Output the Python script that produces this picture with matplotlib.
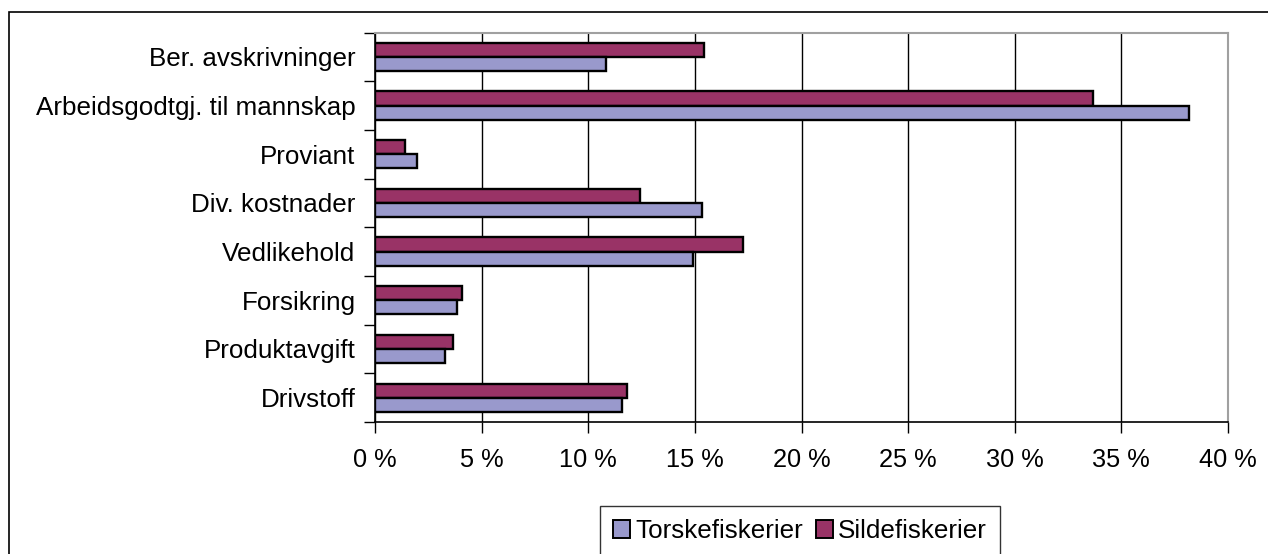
import matplotlib
matplotlib.use("Agg")
import matplotlib.pyplot as plt
from matplotlib.patches import Rectangle, Patch
import numpy as np

plt.rcParams['font.family'] = ['Liberation Sans', 'DejaVu Sans']

categories = ["Ber. avskrivninger", "Arbeidsgodtgj. til mannskap", "Proviant",
              "Div. kostnader", "Vedlikehold", "Forsikring", "Produktavgift", "Drivstoff"]
torsk = [10.85, 38.15, 1.95, 15.35, 14.9, 3.85, 3.3, 11.6]
sild = [15.45, 33.65, 1.4, 12.45, 17.25, 4.1, 3.65, 11.8]
series_names = ["Torskefiskerier", "Sildefiskerier"]
xticks = [0, 5, 10, 15, 20, 25, 30, 35, 40]
xticklabels = ["0 %", "5 %", "10 %", "15 %", "20 %", "25 %", "30 %", "35 %", "40 %"]

W, H = 1268, 554
fig = plt.figure(figsize=(W / 100, H / 100), dpi=100)
fig.patch.set_facecolor('white')

# outer chart border (cropped at right/bottom)
fig.patches.append(Rectangle((9 / W, -0.2), 1.5, (1 - 12 / H) + 0.2,
                             transform=fig.transFigure, fill=False,
                             edgecolor='black', linewidth=1.2))

left, right, top, bottom = 375, 1228, 32.5, 422
ax = fig.add_axes([left / W, 1 - bottom / H, (right - left) / W, (bottom - top) / H])

c_torsk = '#9999CC'
c_sild = '#993366'
bh = 0.29
y = np.arange(len(categories))
ax.barh(y - bh / 2, sild, height=bh, color=c_sild, edgecolor='black', linewidth=1.7, zorder=3)
ax.barh(y + bh / 2, torsk, height=bh, color=c_torsk, edgecolor='black', linewidth=1.7, zorder=3)

ax.set_xlim(0, 40)
ax.set_ylim(len(categories) - 0.5, -0.5)

fs = 18.7
ax.set_xticks(xticks)
ax.set_xticklabels(xticklabels, fontsize=18.3)
ax.tick_params(axis='x', direction='out', length=8, width=1, pad=11, colors='black')
ax.xaxis.grid(True, color='black', linewidth=1, zorder=0)

ax.set_yticks(np.arange(len(categories) + 1) - 0.5)
ax.set_yticklabels([])
ax.tick_params(axis='y', which='major', direction='out', length=8, width=1)
ax.set_yticks(y, minor=True)
ax.set_yticklabels(categories, minor=True, fontsize=fs)
ax.tick_params(axis='y', which='minor', length=0, pad=14)

for s in ['left', 'bottom']:
    ax.spines[s].set_color('black')
    ax.spines[s].set_linewidth(1.2)
for s in ['top', 'right']:
    ax.spines[s].set_color('#A0A0A0')
    ax.spines[s].set_linewidth(1.5)
ax.set_axisbelow(True)

handles = [Patch(facecolor=c_torsk, edgecolor='black', linewidth=1.4),
           Patch(facecolor=c_sild, edgecolor='black', linewidth=1.4)]
leg = fig.legend(handles, series_names, loc='upper center',
                 bbox_to_anchor=(800 / W, 1 - 506 / H), ncol=2, fontsize=fs,
                 frameon=True, fancybox=False, edgecolor='black', handlelength=0.65,
                 handleheight=0.65, handletextpad=0.2, columnspacing=0.5,
                 borderpad=0.5, borderaxespad=0)
leg.get_frame().set_linewidth(1.0)

fig.savefig('out.png', dpi=100)
